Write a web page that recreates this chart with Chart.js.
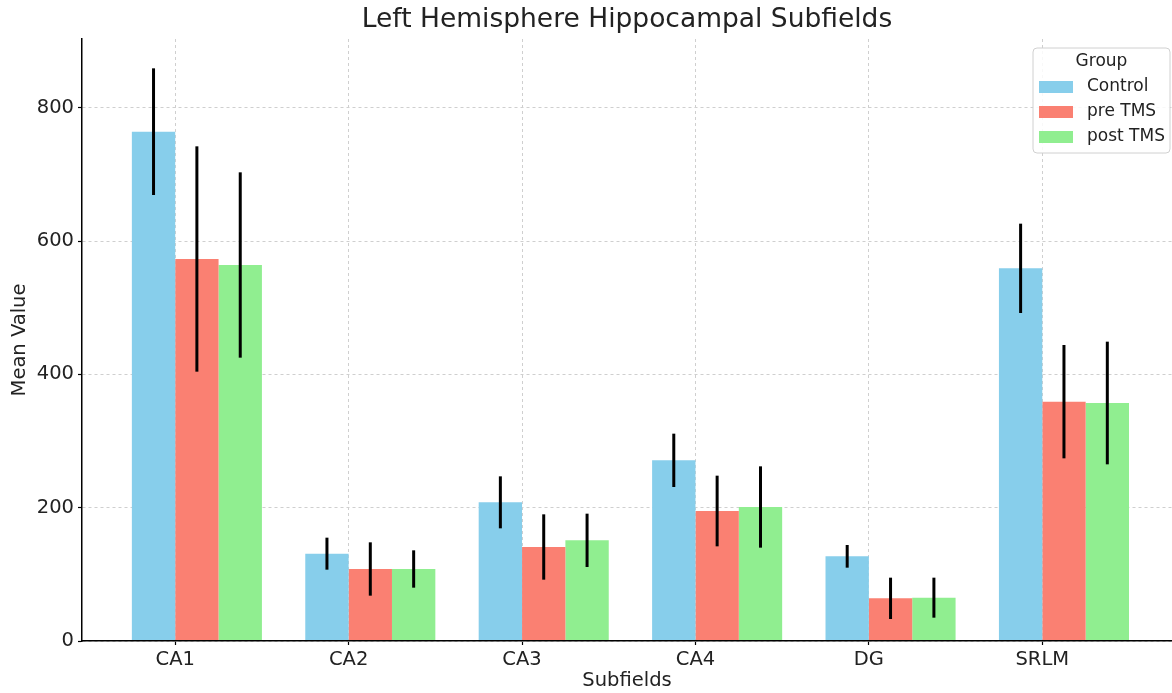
<!DOCTYPE html>
<html>
<head>
<meta charset="utf-8">
<title>Left Hemisphere Hippocampal Subfields</title>
<script src="https://cdn.jsdelivr.net/npm/chart.js@4.4.1/dist/chart.umd.min.js"></script>
<style>
  html, body { margin: 0; padding: 0; background: #fff; }
  #wrap { width: 1172px; height: 693px; }
</style>
</head>
<body>
<div id="wrap"><canvas id="subfieldChart" width="1172" height="693"></canvas></div>
<script>
// subfield names along x
const subfields = ['CA1', 'CA2', 'CA3', 'CA4', 'DG', 'SRLM'];

// group means and error bars
const controlMean = [764, 131, 208, 271, 127, 559];
const controlErr  = [95, 24, 39, 40, 17, 67];
const preMean     = [573, 108, 141, 195, 64, 359];
const preErr      = [169, 40, 49, 53, 31, 85];
const postMean    = [564, 108, 151, 201, 65, 357];
const postErr     = [139, 28, 40, 61, 30, 92];

const groupNames  = ['Control', 'pre TMS', 'post TMS'];
const groupColors = ['#87CEEB', '#FA8072', '#90EE90'];
const yTicks      = [0, 200, 400, 600, 800];

// bars in the source sit to the right of the tick by half a bar
const GROUP_SHIFT = 0.125;

Chart.defaults.font.family = "'DejaVu Sans', sans-serif";
Chart.defaults.color = '#222';

function toPoints(values) {
  return values.map((v, i) => ({ x: i + GROUP_SHIFT, y: v }));
}

const means = [controlMean, preMean, postMean];
const errs  = [controlErr, preErr, postErr];

// vertical black error bars at the centre of each bar
const errorBars = {
  id: 'errorBars',
  afterDatasetsDraw(chart) {
    const ctx = chart.ctx;
    const yScale = chart.scales.y;
    ctx.save();
    ctx.strokeStyle = '#000';
    ctx.lineWidth = 3;
    chart.data.datasets.forEach((ds, d) => {
      const meta = chart.getDatasetMeta(d);
      meta.data.forEach((bar, i) => {
        const m = means[d][i], e = errs[d][i];
        ctx.beginPath();
        ctx.moveTo(bar.x, yScale.getPixelForValue(m + e));
        ctx.lineTo(bar.x, yScale.getPixelForValue(m - e));
        ctx.stroke();
      });
    });
    ctx.restore();
  }
};

// legend box in the upper right, matplotlib style
const boxLegend = {
  id: 'boxLegend',
  afterDraw(chart) {
    const ctx = chart.ctx;
    const area = chart.chartArea;
    const w = 137, h = 105;
    const x = area.right - w - 2, y = area.top + 9;
    ctx.save();
    ctx.fillStyle = 'rgba(255,255,255,0.85)';
    ctx.strokeStyle = '#d0d0d0';
    ctx.lineWidth = 1;
    ctx.beginPath();
    ctx.roundRect(x, y, w, h, 4);
    ctx.fill();
    ctx.stroke();

    ctx.fillStyle = '#222';
    ctx.font = "17px 'DejaVu Sans', sans-serif";
    ctx.textBaseline = 'middle';
    ctx.textAlign = 'center';
    ctx.fillText('Group', x + w / 2, y + 14);
    ctx.textAlign = 'left';
    chart.data.datasets.forEach((ds, d) => {
      const cy = y + 39 + d * 25;
      ctx.fillStyle = ds.backgroundColor;
      ctx.fillRect(x + 6, cy - 6, 34, 12);
      ctx.fillStyle = '#222';
      ctx.fillText(ds.label, x + 54, cy);
    });
    ctx.restore();
  }
};

new Chart(document.getElementById('subfieldChart'), {
  type: 'bar',
  data: {
    datasets: groupNames.map((name, d) => ({
      label: name,
      data: toPoints(means[d]),
      backgroundColor: groupColors[d],
      borderWidth: 0,
      barPercentage: 1,
      categoryPercentage: 0.75
    }))
  },
  options: {
    responsive: false,
    animation: false,
    layout: { padding: 0 },
    plugins: {
      legend: { display: false },
      tooltip: { enabled: false },
      title: {
        display: true,
        fullSize: false,
        text: 'Left Hemisphere Hippocampal Subfields',
        color: '#222',
        font: { size: 26.5, weight: 'normal', lineHeight: 1.2 },
        padding: { top: 4, bottom: 3.2 }
      }
    },
    scales: {
      x: {
        type: 'linear',
        offset: false,
        min: -0.5375,
        max: 5.748,
        afterBuildTicks(scale) {
          scale.ticks = subfields.map((s, i) => ({ value: i }));
        },
        afterFit(scale) { scale.height = 52; },
        ticks: {
          autoSkip: false,
          maxRotation: 0,
          padding: 3,
          font: { size: 19.5 },
          color: '#222',
          callback: (v) => subfields[v]
        },
        grid: {
          offset: false,
          color: '#cfcfcf',
          lineWidth: 1,
          tickColor: '#000',
          tickLength: 4,
          tickWidth: 1.2
        },
        border: { display: true, color: '#000', width: 1.5, dash: [3, 3], z: 1 },
        title: {
          display: true,
          text: 'Subfields',
          color: '#222',
          font: { size: 19.5, lineHeight: 1.2 },
          padding: { top: 0, bottom: 0 }
        }
      },
      y: {
        min: 0,
        max: 903,
        afterBuildTicks(scale) {
          scale.ticks = yTicks.map(v => ({ value: v }));
        },
        afterFit(scale) { scale.width = 82; },
        ticks: {
          padding: 4,
          font: { size: 19.5 },
          color: '#222'
        },
        grid: {
          color: '#cfcfcf',
          lineWidth: 1,
          tickColor: '#000',
          tickLength: 4,
          tickWidth: 1.2
        },
        border: { display: true, color: '#000', width: 1.5, dash: [3, 3], z: 1 },
        title: {
          display: true,
          text: 'Mean Value',
          color: '#222',
          font: { size: 19.5, lineHeight: 1.2 },
          padding: { top: 8, bottom: 0 }
        }
      }
    }
  },
  plugins: [errorBars, boxLegend]
});
</script>
</body>
</html>
